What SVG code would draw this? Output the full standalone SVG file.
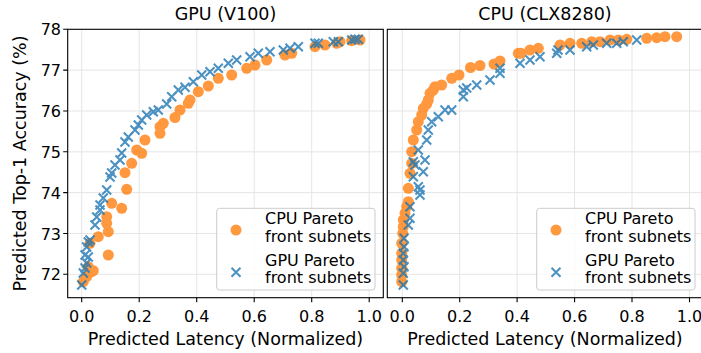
<svg xmlns="http://www.w3.org/2000/svg" xmlns:xlink="http://www.w3.org/1999/xlink" width="701" height="353" viewBox="0 0 701 353">
<style>
text{font-family:"DejaVu Sans","Liberation Sans",sans-serif;fill:#000}
.t{font-size:16px}
.ttl{font-size:17.5px;text-anchor:middle}
.lab{font-size:17.5px;text-anchor:middle}
.yt{text-anchor:end}
.xt{text-anchor:middle}
.lg{font-size:16px}
.grid{stroke:#e5e5e5;stroke-width:1;fill:none}
.spine{stroke:#000;stroke-width:1.1;fill:none}
.tick{stroke:#000;stroke-width:1.1}
.o{fill:#ff7f0e;opacity:0.8}
.x{stroke:#1f77b4;stroke-width:2;fill:none;opacity:0.8}
.leg{fill:#fff;fill-opacity:0.8;stroke:#cccccc;stroke-width:1}
</style>
<defs>
<circle id="o" r="5.5"/>
<path id="x" d="M-4.5,-4.5L4.5,4.5M-4.5,4.5L4.5,-4.5"/>
</defs>
<rect width="701" height="353" fill="#fff"/>

<g id="left-axes">
<g class="grid">
<path d="M81.7,29.3V297.7M139.2,29.3V297.7M196.7,29.3V297.7M254.2,29.3V297.7M311.7,29.3V297.7M369.2,29.3V297.7"/>
<path d="M67.7,70.1H383.3M67.7,111H383.3M67.7,151.8H383.3M67.7,192.6H383.3M67.7,233.5H383.3M67.7,274.3H383.3"/>
</g>
<text class="ttl" x="225.5" y="19.5">GPU (V100)</text>
</g>

<g id="right-axes">
<g class="grid">
<path d="M402.3,29.3V297.7M459.7,29.3V297.7M517.1,29.3V297.7M574.6,29.3V297.7M632,29.3V297.7M689.5,29.3V297.7"/>
<path d="M387.3,70.1H703M387.3,111H703M387.3,151.8H703M387.3,192.6H703M387.3,233.5H703M387.3,274.3H703"/>
</g>
<text class="ttl" x="545" y="19.5">CPU (CLX8280)</text>
</g>

<g id="left-cpu-points" class="o">
<use href="#o" x="83.3" y="281.7"/><use href="#o" x="86.7" y="276.7"/><use href="#o" x="91.7" y="271.7"/><use href="#o" x="93.3" y="270.7"/><use href="#o" x="88.3" y="266.7"/><use href="#o" x="108.3" y="255"/><use href="#o" x="90" y="243.3"/><use href="#o" x="98.3" y="236.7"/><use href="#o" x="108.3" y="231.7"/><use href="#o" x="106.7" y="223.3"/><use href="#o" x="106.7" y="216.7"/><use href="#o" x="111.7" y="203.3"/><use href="#o" x="121.7" y="208.3"/><use href="#o" x="126.7" y="189.3"/><use href="#o" x="125" y="172.7"/><use href="#o" x="131.7" y="163.3"/><use href="#o" x="136.7" y="150"/><use href="#o" x="141.7" y="153.3"/><use href="#o" x="145" y="140"/><use href="#o" x="160" y="133.3"/><use href="#o" x="160" y="126.7"/><use href="#o" x="163.3" y="123.3"/><use href="#o" x="175" y="117.5"/><use href="#o" x="180" y="110"/><use href="#o" x="188.3" y="103.3"/><use href="#o" x="190" y="100"/><use href="#o" x="198.3" y="91.7"/><use href="#o" x="208.3" y="86"/><use href="#o" x="218.3" y="78.3"/><use href="#o" x="231.7" y="75"/><use href="#o" x="246.7" y="68.3"/><use href="#o" x="255" y="65"/><use href="#o" x="266.7" y="60"/><use href="#o" x="285" y="55"/><use href="#o" x="291.7" y="53.3"/><use href="#o" x="315" y="46.7"/><use href="#o" x="325" y="45"/><use href="#o" x="336.7" y="43.3"/><use href="#o" x="340" y="41.7"/><use href="#o" x="351.7" y="40.7"/><use href="#o" x="360" y="40"/>
</g>

<g id="left-gpu-points" class="x">
<use href="#x" x="81.7" y="285"/><use href="#x" x="83.3" y="273"/><use href="#x" x="85" y="268"/><use href="#x" x="86.7" y="263"/><use href="#x" x="88.3" y="257"/><use href="#x" x="85" y="255"/><use href="#x" x="86.7" y="247"/><use href="#x" x="88.3" y="242"/><use href="#x" x="90" y="240"/><use href="#x" x="95" y="225"/><use href="#x" x="96.7" y="217"/><use href="#x" x="100" y="210"/><use href="#x" x="100" y="205"/><use href="#x" x="103.3" y="198"/><use href="#x" x="106.7" y="190"/><use href="#x" x="110" y="177"/><use href="#x" x="111.7" y="173"/><use href="#x" x="115" y="165"/><use href="#x" x="120" y="160"/><use href="#x" x="121.7" y="153"/><use href="#x" x="125" y="142"/><use href="#x" x="128.3" y="137"/><use href="#x" x="135" y="130"/><use href="#x" x="138.3" y="125"/><use href="#x" x="141.7" y="120"/><use href="#x" x="146.7" y="115"/><use href="#x" x="153.3" y="111.7"/><use href="#x" x="158.3" y="110"/><use href="#x" x="166.7" y="104"/><use href="#x" x="171.7" y="96.7"/><use href="#x" x="178.3" y="90"/><use href="#x" x="185" y="87.3"/><use href="#x" x="193.3" y="81.7"/><use href="#x" x="201.7" y="75"/><use href="#x" x="210" y="71.7"/><use href="#x" x="218.3" y="68.3"/><use href="#x" x="228.3" y="63.3"/><use href="#x" x="236.7" y="60"/><use href="#x" x="250" y="56.7"/><use href="#x" x="258.3" y="53.3"/><use href="#x" x="270" y="51.7"/><use href="#x" x="283.3" y="50"/><use href="#x" x="290" y="48.3"/><use href="#x" x="298.3" y="46.7"/><use href="#x" x="315" y="43.3"/><use href="#x" x="318.3" y="43.3"/><use href="#x" x="333.3" y="41.7"/><use href="#x" x="338.3" y="41.7"/><use href="#x" x="351.7" y="40"/><use href="#x" x="355" y="39.3"/><use href="#x" x="358.3" y="39.3"/>
</g>

<g id="right-cpu-points" class="o">
<use href="#o" x="401.7" y="281.7"/><use href="#o" x="401.7" y="275"/><use href="#o" x="401.7" y="268.3"/><use href="#o" x="401.7" y="260"/><use href="#o" x="401.7" y="253.3"/><use href="#o" x="401.7" y="243.3"/><use href="#o" x="402.7" y="233.3"/><use href="#o" x="403.3" y="226.7"/><use href="#o" x="403.3" y="220"/><use href="#o" x="405" y="213.3"/><use href="#o" x="406.7" y="206.7"/><use href="#o" x="408.3" y="201.7"/><use href="#o" x="408.3" y="188.3"/><use href="#o" x="410" y="173.3"/><use href="#o" x="411.7" y="163.3"/><use href="#o" x="411.7" y="151.7"/><use href="#o" x="413.3" y="140"/><use href="#o" x="416.7" y="130"/><use href="#o" x="418.3" y="121.7"/><use href="#o" x="421.7" y="115"/><use href="#o" x="423.3" y="108.3"/><use href="#o" x="426.7" y="104"/><use href="#o" x="428.3" y="100"/><use href="#o" x="430" y="93.3"/><use href="#o" x="433.3" y="90"/><use href="#o" x="435" y="86.7"/><use href="#o" x="441.7" y="85"/><use href="#o" x="451.7" y="78.3"/><use href="#o" x="459" y="75"/><use href="#o" x="470.5" y="67.5"/><use href="#o" x="480" y="65.5"/><use href="#o" x="494" y="64"/><use href="#o" x="500" y="61"/><use href="#o" x="518.3" y="53.3"/><use href="#o" x="521" y="53.3"/><use href="#o" x="530" y="50"/><use href="#o" x="538.3" y="48.3"/><use href="#o" x="560" y="45"/><use href="#o" x="570" y="43.3"/><use href="#o" x="581.7" y="43.3"/><use href="#o" x="591.7" y="41.7"/><use href="#o" x="600" y="41.7"/><use href="#o" x="610" y="40"/><use href="#o" x="618.3" y="40"/><use href="#o" x="626.7" y="39.3"/><use href="#o" x="646.7" y="38.3"/><use href="#o" x="656.7" y="37.7"/><use href="#o" x="665" y="36.7"/><use href="#o" x="676.7" y="36.7"/>
</g>

<g id="right-gpu-points" class="x">
<use href="#x" x="403.3" y="285"/><use href="#x" x="403.3" y="273.3"/><use href="#x" x="404" y="266.7"/><use href="#x" x="403.3" y="260"/><use href="#x" x="403.3" y="253.3"/><use href="#x" x="404" y="246.7"/><use href="#x" x="404" y="238.3"/><use href="#x" x="408.3" y="225"/><use href="#x" x="410" y="218.3"/><use href="#x" x="410" y="206.7"/><use href="#x" x="420" y="195"/><use href="#x" x="420" y="190"/><use href="#x" x="418.3" y="186.7"/><use href="#x" x="413.3" y="176.7"/><use href="#x" x="423.3" y="171.7"/><use href="#x" x="415" y="165"/><use href="#x" x="425" y="160"/><use href="#x" x="413.3" y="161.7"/><use href="#x" x="418.3" y="150"/><use href="#x" x="426.7" y="140"/><use href="#x" x="428.3" y="130"/><use href="#x" x="431.7" y="121.7"/><use href="#x" x="438.3" y="116.7"/><use href="#x" x="445" y="110"/><use href="#x" x="451.7" y="110"/><use href="#x" x="463.3" y="96.7"/><use href="#x" x="463.3" y="90"/><use href="#x" x="466.7" y="88"/><use href="#x" x="476.7" y="85"/><use href="#x" x="490" y="80"/><use href="#x" x="500" y="73.3"/><use href="#x" x="500" y="68.3"/><use href="#x" x="520" y="63.3"/><use href="#x" x="530" y="60"/><use href="#x" x="540" y="56.7"/><use href="#x" x="556.7" y="53.3"/><use href="#x" x="558" y="50"/><use href="#x" x="570" y="50"/><use href="#x" x="586.7" y="46.7"/><use href="#x" x="593.3" y="45"/><use href="#x" x="606.7" y="43.3"/><use href="#x" x="616.7" y="43.3"/><use href="#x" x="623.3" y="41.7"/><use href="#x" x="636.7" y="40"/>
</g>

<g id="left-frame">
<rect class="spine" x="67.7" y="29.3" width="315.6" height="268.4"/>
<path class="tick" d="M63.2,29.3H67.7M63.2,70.1H67.7M63.2,111H67.7M63.2,151.8H67.7M63.2,192.6H67.7M63.2,233.5H67.7M63.2,274.3H67.7"/>
<path class="tick" d="M81.7,297.7V302.2M139.2,297.7V302.2M196.7,297.7V302.2M254.2,297.7V302.2M311.7,297.7V302.2M369.2,297.7V302.2"/>
<g class="t yt">
<text x="61" y="35.3">78</text><text x="61" y="76.1">77</text><text x="61" y="117">76</text><text x="61" y="157.8">75</text><text x="61" y="198.6">74</text><text x="61" y="239.5">73</text><text x="61" y="280.3">72</text>
</g>
<g class="t xt">
<text x="81.7" y="321.5">0.0</text><text x="139.2" y="321.5">0.2</text><text x="196.7" y="321.5">0.4</text><text x="254.2" y="321.5">0.6</text><text x="311.7" y="321.5">0.8</text><text x="369.2" y="321.5">1.0</text>
</g>
<text class="lab" x="225.5" y="345">Predicted Latency (Normalized)</text>
<text class="lab" transform="translate(26,163.5) rotate(-90)">Predicted Top-1 Accuracy (%)</text>
</g>

<g id="right-frame">
<rect class="spine" x="387.3" y="29.3" width="315.6" height="268.4"/>
<path class="tick" d="M402.3,297.7V302.2M459.7,297.7V302.2M517.1,297.7V302.2M574.6,297.7V302.2M632,297.7V302.2M689.5,297.7V302.2"/>
<g class="t xt">
<text x="402.3" y="321.5">0.0</text><text x="459.7" y="321.5">0.2</text><text x="517.1" y="321.5">0.4</text><text x="574.6" y="321.5">0.6</text><text x="632" y="321.5">0.8</text><text x="689.5" y="321.5">1.0</text>
</g>
<text class="lab" x="545" y="345">Predicted Latency (Normalized)</text>
</g>

<g id="left-legend">
<rect class="leg" x="216.7" y="208.3" width="158.3" height="81.7" rx="3"/>
<use href="#o" class="o" x="236" y="230"/>
<use href="#x" class="x" x="236" y="272.3"/>
<text class="lg" x="265" y="224.3">CPU Pareto</text>
<text class="lg" x="265" y="241.7">front subnets</text>
<text class="lg" x="265" y="265.7">GPU Pareto</text>
<text class="lg" x="265" y="283">front subnets</text>
</g>

<g id="right-legend">
<rect class="leg" x="536.7" y="208.3" width="158.3" height="81.7" rx="3"/>
<use href="#o" class="o" x="556" y="230"/>
<use href="#x" class="x" x="556" y="272.3"/>
<text class="lg" x="585" y="224.3">CPU Pareto</text>
<text class="lg" x="585" y="241.7">front subnets</text>
<text class="lg" x="585" y="265.7">GPU Pareto</text>
<text class="lg" x="585" y="283">front subnets</text>
</g>
</svg>
